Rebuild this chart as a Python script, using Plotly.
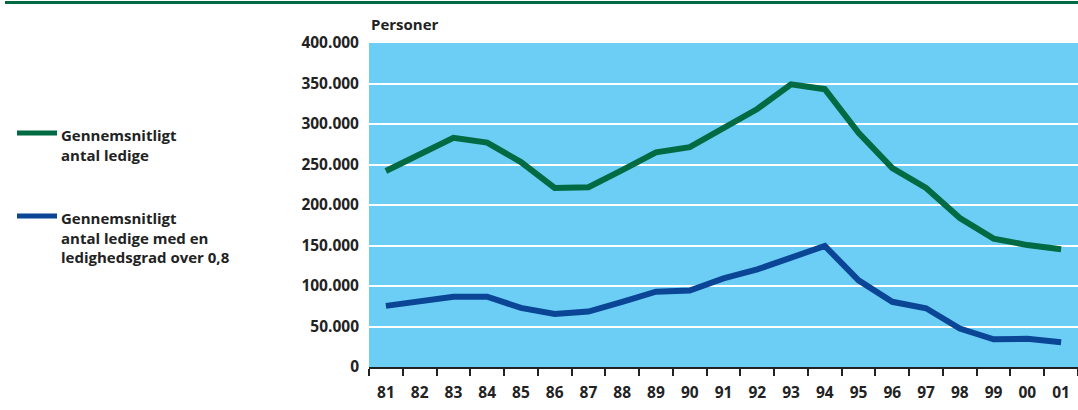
import plotly.graph_objects as go

years = ["81", "82", "83", "84", "85", "86", "87", "88", "89", "90", "91",
         "92", "93", "94", "95", "96", "97", "98", "99", "00", "01"]
ledige = [242000, 263000, 283000, 277000, 253000, 221000, 222000, 243000, 265000, 271500, 296000,
          318500, 349000, 343000, 289000, 245500, 221000, 184000, 158500, 150500, 145500]
ledige_08 = [75500, 80500, 86800, 86800, 73000, 65500, 68500, 80500, 93000, 94500, 109500,
             120500, 134500, 149500, 107000, 80500, 72500, 47500, 34200, 34800, 30500]
y_ticks = [0, 50000, 100000, 150000, 200000, 250000, 300000, 350000, 400000]

GREEN = "#006b43"
BLUE = "#0b4596"
BG = "#6ccef5"
FONT = "Open Sans"
TXT = "#222"

fig = go.Figure()
fig.add_trace(go.Scatter(x=years, y=ledige, mode="lines",
                         line=dict(color=GREEN, width=6), showlegend=False))
fig.add_trace(go.Scatter(x=years, y=ledige_08, mode="lines",
                         line=dict(color=BLUE, width=6), showlegend=False))

L, R, T, B = 369, 0, 43, 43
W, H = 1078, 410
pw = W - L - R
ph = H - T - B

def px(xp):
    return (xp - L) / pw

def py(yp):
    return (H - B - yp) / ph

shapes = [
    dict(type="line", xref="paper", yref="paper", x0=px(5), x1=px(1078), y0=py(2.5), y1=py(2.5),
         line=dict(color=GREEN, width=3)),
    dict(type="line", xref="paper", yref="paper", x0=px(17), x1=px(57), y0=py(133), y1=py(133),
         line=dict(color=GREEN, width=5)),
    dict(type="line", xref="paper", yref="paper", x0=px(17), x1=px(57), y0=py(216), y1=py(216),
         line=dict(color=BLUE, width=5)),
]

lfont = dict(family=FONT, size=15, color=TXT, weight="bold")
annotations = [
    dict(text="Personer", xref="paper", yref="paper", x=0, y=py(24), xanchor="left",
         yanchor="middle", showarrow=False, font=lfont),
    dict(text="Gennemsnitligt<br>antal ledige", xref="paper", yref="paper", x=px(59),
         y=py(123), xanchor="left", yanchor="top", align="left", showarrow=False,
         font=lfont),
    dict(text="Gennemsnitligt<br>antal ledige med en<br>ledighedsgrad over 0,8", xref="paper",
         yref="paper", x=px(59), y=py(206), xanchor="left", yanchor="top", align="left",
         showarrow=False, font=lfont),
]

tfont = dict(family=FONT, size=15.5, color=TXT, weight="bold")
fig.update_layout(
    width=W, height=H,
    margin=dict(l=L, r=R, t=T, b=B, pad=0, autoexpand=False),
    paper_bgcolor="white",
    plot_bgcolor=BG,
    separators=",.",
    shapes=shapes,
    annotations=annotations,
    font=dict(family=FONT, size=14, color=TXT),
    xaxis=dict(type="category", range=[-0.5, 20.5], tickson="boundaries", ticks="outside",
               ticklen=7, tickwidth=2, tickcolor=TXT, showline=True, linecolor=TXT,
               linewidth=2, showgrid=False, tickfont=tfont, automargin=False,
               ticklabelstandoff=10, fixedrange=True),
    yaxis=dict(range=[0, 400000], tickvals=y_ticks, tickformat=",d", showgrid=True,
               gridcolor="white", gridwidth=2, zeroline=False, showline=False, ticks="",
               ticklabelstandoff=9, tickfont=tfont, automargin=False, fixedrange=True),
)

fig.write_html("out.html", config={"displayModeBar": False},
               post_script="document.body.style.margin='0';document.body.style.overflow='hidden';")
